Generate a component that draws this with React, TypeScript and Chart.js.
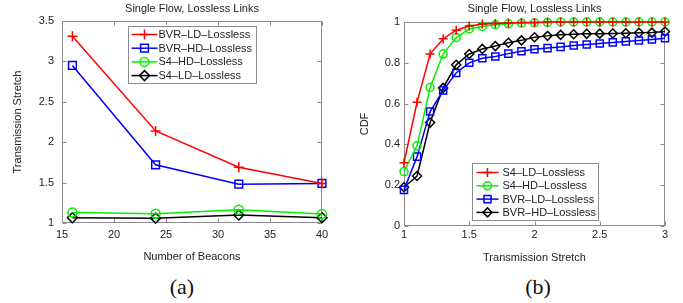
import React, { useEffect, useRef } from 'react';
import { Chart, registerables } from 'chart.js';

Chart.register(...registerables);

// ---------- data: chart (a) ----------
const beacons = [16, 24, 32, 40];
const bvrLdA = [3.31, 2.14, 1.69, 1.49];
const bvrHdA = [2.95, 1.72, 1.48, 1.49];
const s4HdA = [1.13, 1.115, 1.165, 1.11];
const s4LdA = [1.065, 1.06, 1.10, 1.065];
const labelsA = ['BVR–LD–Lossless', 'BVR–HD–Lossless', 'S4–HD–Lossless', 'S4–LD–Lossless'];

// ---------- data: chart (b) ----------
const stretch = [1.0, 1.1, 1.2, 1.3, 1.4, 1.5, 1.6, 1.7, 1.8, 1.9, 2.0, 2.1, 2.2, 2.3, 2.4, 2.5, 2.6, 2.7, 2.8, 2.9, 3.0];
const s4LdB = [0.31, 0.607, 0.843, 0.918, 0.96, 0.98, 0.99, 0.993, 0.995, 0.997, 0.998, 1, 1, 1, 1, 1, 1, 1, 1, 1, 1];
const s4HdB = [0.267, 0.393, 0.679, 0.843, 0.924, 0.966, 0.978, 0.987, 0.991, 0.994, 0.996, 0.998, 1, 1, 1, 1, 1, 1, 1, 1, 1];
const bvrLdB = [0.177, 0.34, 0.561, 0.665, 0.75, 0.8, 0.822, 0.831, 0.845, 0.857, 0.866, 0.872, 0.878, 0.885, 0.89, 0.895, 0.9, 0.905, 0.909, 0.914, 0.92];
const bvrHdB = [0.19, 0.245, 0.507, 0.677, 0.79, 0.843, 0.868, 0.882, 0.898, 0.91, 0.925, 0.932, 0.937, 0.94, 0.942, 0.943, 0.944, 0.945, 0.947, 0.948, 0.953];
const labelsB = ['S4–LD–Lossless', 'S4–HD–Lossless', 'BVR–LD–Lossless', 'BVR–HD–Lossless'];

const TITLE = 'Single Flow, Lossless Links';
const FONT = '"Liberation Sans", Arial, Helvetica, sans-serif';
const TEXT = '#222';
const FRAME = '#8c8c8c';
const GREEN = '#00f000';

Chart.defaults.font.family = FONT;
Chart.defaults.font.size = 11;
Chart.defaults.color = TEXT;

type Marker = 'cross' | 'rect' | 'circle' | 'rectRot';

function drawMarker(ctx: CanvasRenderingContext2D, style: Marker, x: number, y: number, r: number) {
  ctx.beginPath();
  if (style === 'cross') {
    ctx.moveTo(x - r, y); ctx.lineTo(x + r, y);
    ctx.moveTo(x, y - r); ctx.lineTo(x, y + r);
  } else if (style === 'rect') {
    const s = r * Math.SQRT1_2;
    ctx.rect(x - s, y - s, 2 * s, 2 * s);
  } else if (style === 'circle') {
    ctx.arc(x, y, r, 0, Math.PI * 2);
  } else {
    ctx.moveTo(x, y - r); ctx.lineTo(x + r, y); ctx.lineTo(x, y + r); ctx.lineTo(x - r, y); ctx.closePath();
  }
  ctx.stroke();
}

const fmt = (v: any) => String(+Number(v).toFixed(2));

const frameTicks = {
  id: 'frameTicks',
  beforeDatasetsDraw(chart: any) {
    const { ctx, chartArea: a, scales } = chart;
    const L = 4;
    ctx.save();
    ctx.fillStyle = TEXT;
    ctx.font = `11px ${FONT}`;
    ctx.textAlign = 'center';
    ctx.textBaseline = 'middle';
    ctx.fillText(chart.options.plugins.plotTitle.text, (a.left + a.right) / 2, chart.options.plugins.plotTitle.y);
    ctx.strokeStyle = FRAME;
    ctx.lineWidth = 1;
    const l = Math.round(a.left) + 0.5, r = Math.round(a.right) - 0.5;
    const t = Math.round(a.top) + 0.5, b = Math.round(a.bottom) - 0.5;
    ctx.strokeRect(l, t, r - l, b - t);
    ctx.beginPath();
    scales.x.ticks.forEach((tk: any) => {
      const p = Math.round(scales.x.getPixelForValue(tk.value)) + 0.5;
      ctx.moveTo(p, b); ctx.lineTo(p, b - L);
      ctx.moveTo(p, t); ctx.lineTo(p, t + L);
    });
    scales.y.ticks.forEach((tk: any) => {
      const p = Math.round(scales.y.getPixelForValue(tk.value)) + 0.5;
      ctx.moveTo(l, p); ctx.lineTo(l + L, p);
      ctx.moveTo(r, p); ctx.lineTo(r - L, p);
    });
    ctx.stroke();
    ctx.restore();
  },
};

const boxLegend = {
  id: 'boxLegend',
  afterDraw(chart: any) {
    const o = chart.options.plugins.boxLegend;
    if (!o) return;
    const { ctx, chartArea: a } = chart;
    const x0 = Math.round(a.left + o.dx) + 0.5;
    const y0 = Math.round(a.top + o.dy) + 0.5;
    ctx.save();
    ctx.fillStyle = '#fff';
    ctx.fillRect(x0, y0, o.w, o.h);
    ctx.strokeStyle = FRAME;
    ctx.lineWidth = 1;
    ctx.strokeRect(x0, y0, o.w, o.h);
    ctx.font = `11px ${FONT}`;
    ctx.textBaseline = 'middle';
    ctx.textAlign = 'left';
    chart.data.datasets.forEach((ds: any, i: number) => {
      const y = y0 + o.firstRow + i * o.rowH;
      ctx.strokeStyle = ds.borderColor;
      ctx.lineWidth = 1.5;
      ctx.beginPath();
      ctx.moveTo(x0 + o.lineX0, y); ctx.lineTo(x0 + o.lineX1, y);
      ctx.stroke();
      drawMarker(ctx, ds.pointStyle, x0 + (o.lineX0 + o.lineX1) / 2, y, ds.pointRadius);
      ctx.fillStyle = TEXT;
      ctx.fillText(ds.label, x0 + o.textX, y + 0.5);
    });
    ctx.restore();
  },
};

function ds(label: string, data: number[], color: string, style: Marker, radius: number, xs: number[]) {
  return {
    label,
    data: data.map((v, i) => ({ x: xs[i], y: v })),
    borderColor: color,
    backgroundColor: 'transparent',
    pointBackgroundColor: 'transparent',
    pointBorderColor: color,
    pointBorderWidth: 1.5,
    borderWidth: 1.5,
    pointStyle: style,
    pointRadius: radius,
    tension: 0,
    clip: false as any,
  };
}

function baseOptions(p: {
  xmin: number; xmax: number; xstep: number; ymin: number; ymax: number; ystep: number;
  xTitle: string; yTitle: string; yAxisW: number; xAxisH: number; xPad: number; yPad: number;
  yTitlePad: number; top: number; titleY: number; padRight: number; legend: any;
}) {
  return {
    responsive: false,
    animation: false as const,
    events: [] as any[],
    layout: { padding: { left: 0, right: p.padRight, top: p.top, bottom: 0 } },
    plugins: {
      legend: { display: false },
      tooltip: { enabled: false },
      title: { display: false },
      plotTitle: { text: TITLE, y: p.titleY },
      boxLegend: p.legend,
    },
    scales: {
      x: {
        type: 'linear' as const,
        min: p.xmin, max: p.xmax,
        afterFit: (s: any) => { s.height = p.xAxisH; },
        ticks: { stepSize: p.xstep, padding: p.xPad, color: TEXT, font: { size: 11 }, maxRotation: 0, callback: fmt },
        grid: { display: false, drawTicks: false },
        border: { display: false },
        title: { display: true, text: p.xTitle, color: TEXT, font: { size: 11, lineHeight: 1.2 }, padding: { top: 0, bottom: 2.4 } },
      },
      y: {
        type: 'linear' as const,
        min: p.ymin, max: p.ymax,
        afterFit: (s: any) => { s.width = p.yAxisW; },
        ticks: { stepSize: p.ystep, padding: p.yPad, color: TEXT, font: { size: 11 }, callback: fmt },
        grid: { display: false, drawTicks: false },
        border: { display: false },
        title: { display: true, text: p.yTitle, color: TEXT, font: { size: 11, lineHeight: 1.2 }, padding: { top: p.yTitlePad, bottom: 0 } },
      },
    },
  };
}

export default function App() {
  const refA = useRef<HTMLCanvasElement>(null);
  const refB = useRef<HTMLCanvasElement>(null);

  useEffect(() => {
    const chartA = new Chart(refA.current as HTMLCanvasElement, {
      type: 'line',
      data: {
        datasets: [
          ds(labelsA[0], bvrLdA, '#ff0000', 'cross', 5, beacons),
          ds(labelsA[1], bvrHdA, '#0000ff', 'rect', 5.5, beacons),
          ds(labelsA[2], s4HdA, GREEN, 'circle', 4.5, beacons),
          ds(labelsA[3], s4LdA, '#000000', 'rectRot', 5, beacons),
        ],
      },
      options: baseOptions({
        xmin: 15, xmax: 40, xstep: 5, ymin: 1, ymax: 3.5, ystep: 0.5,
        xTitle: 'Number of Beacons', yTitle: 'Transmission Stretch',
        yAxisW: 62, xAxisH: 43, xPad: 5.7, yPad: 8, yTitlePad: 11.4, top: 21, titleY: 8.6, padRight: 18,
        legend: { dx: 66, dy: 5, w: 128, h: 57, firstRow: 8, rowH: 13.7, lineX0: 3, lineX1: 29, textX: 30 },
      }) as any,
      plugins: [frameTicks, boxLegend],
    });

    const chartB = new Chart(refB.current as HTMLCanvasElement, {
      type: 'line',
      data: {
        datasets: [
          ds(labelsB[0], s4LdB, '#ff0000', 'cross', 4.5, stretch),
          ds(labelsB[1], s4HdB, GREEN, 'circle', 4, stretch),
          ds(labelsB[2], bvrLdB, '#0000ff', 'rect', 5, stretch),
          ds(labelsB[3], bvrHdB, '#000000', 'rectRot', 4.5, stretch),
        ],
      },
      options: baseOptions({
        xmin: 1, xmax: 3, xstep: 0.5, ymin: 0, ymax: 1, ystep: 0.2,
        xTitle: 'Transmission Stretch', yTitle: 'CDF',
        yAxisW: 64, xAxisH: 41, xPad: 2.4, yPad: 4, yTitlePad: 18.4, top: 22, titleY: 9.2, padRight: 18,
        legend: { dx: 68, dy: 141, w: 126, h: 57, firstRow: 9, rowH: 13.3, lineX0: 4, lineX1: 26, textX: 30 },
      }) as any,
      plugins: [frameTicks, boxLegend],
    });

    return () => { chartA.destroy(); chartB.destroy(); };
  }, []);

  const capStyle: React.CSSProperties = {
    position: 'absolute', top: 275, width: 60, height: 24, lineHeight: '24px', textAlign: 'center',
    fontFamily: '"Liberation Serif", "Times New Roman", serif', fontSize: 22, color: '#111',
  };

  return (
    <div style={{ position: 'absolute', left: 0, top: 0, width: 683, height: 303, background: '#fff', overflow: 'hidden' }}>
      <canvas ref={refA} width={340} height={266} style={{ position: 'absolute', left: 0, top: 0 }} />
      <canvas ref={refB} width={343} height={267} style={{ position: 'absolute', left: 340, top: 0 }} />
      <div style={{ ...capStyle, left: 152 }}>(a)</div>
      <div style={{ ...capStyle, left: 508 }}>(b)</div>
    </div>
  );
}
